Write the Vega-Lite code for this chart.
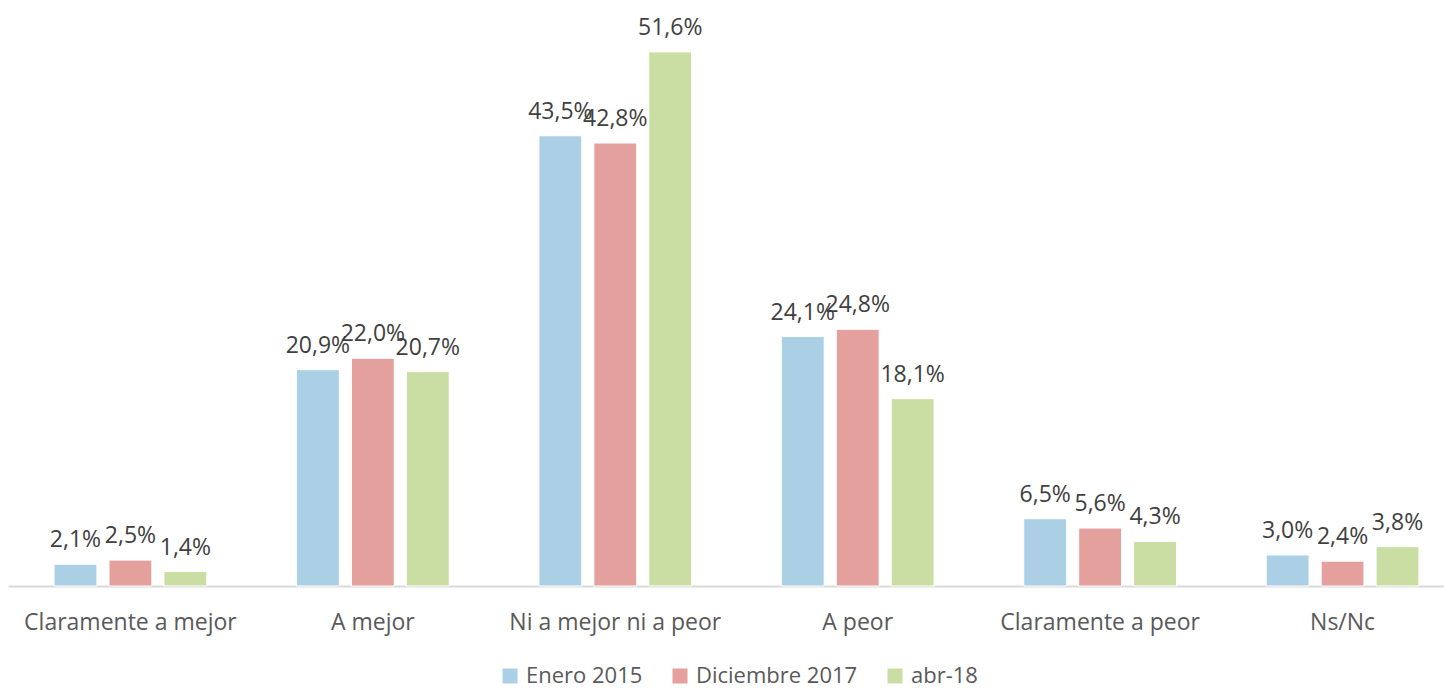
{
  "$schema": "https://vega.github.io/schema/vega-lite/v6.json",
  "width": 1444,
  "height": 576,
  "autosize": {"type": "none"},
  "padding": {"left": 0, "top": 10, "right": 0, "bottom": 102},
  "background": "white",
  "config": {
    "locale": {"number": {"decimal": ",", "thousands": ".", "grouping": [3], "currency": ["", " €"]}},
    "view": {"stroke": null},
    "font": "Open Sans"
  },
  "data": {"values": [
    {"cat": "Claramente a mejor", "serie": "Enero 2015", "v": 0.021},
    {"cat": "Claramente a mejor", "serie": "Diciembre 2017", "v": 0.025},
    {"cat": "Claramente a mejor", "serie": "abr-18", "v": 0.014},
    {"cat": "A mejor", "serie": "Enero 2015", "v": 0.209},
    {"cat": "A mejor", "serie": "Diciembre 2017", "v": 0.220},
    {"cat": "A mejor", "serie": "abr-18", "v": 0.207},
    {"cat": "Ni a mejor ni a peor", "serie": "Enero 2015", "v": 0.435},
    {"cat": "Ni a mejor ni a peor", "serie": "Diciembre 2017", "v": 0.428},
    {"cat": "Ni a mejor ni a peor", "serie": "abr-18", "v": 0.516},
    {"cat": "A peor", "serie": "Enero 2015", "v": 0.241},
    {"cat": "A peor", "serie": "Diciembre 2017", "v": 0.248},
    {"cat": "A peor", "serie": "abr-18", "v": 0.181},
    {"cat": "Claramente a peor", "serie": "Enero 2015", "v": 0.065},
    {"cat": "Claramente a peor", "serie": "Diciembre 2017", "v": 0.056},
    {"cat": "Claramente a peor", "serie": "abr-18", "v": 0.043},
    {"cat": "Ns/Nc", "serie": "Enero 2015", "v": 0.030},
    {"cat": "Ns/Nc", "serie": "Diciembre 2017", "v": 0.024},
    {"cat": "Ns/Nc", "serie": "abr-18", "v": 0.038}
  ]},
  "encoding": {
    "x": {
      "field": "cat", "type": "nominal", "sort": null,
      "scale": {"range": [8, 1465], "paddingInner": 0.37, "paddingOuter": 0.19},
      "axis": {"title": null, "labelAngle": 0, "labelFontSize": 23, "labelColor": "#595959", "labelPadding": 25, "labelLimit": 0, "ticks": false, "domainColor": "#D9D9D9", "domainWidth": 2, "labelFont": "Open Sans"}
    },
    "xOffset": {"field": "serie", "type": "nominal", "sort": ["Enero 2015", "Diciembre 2017", "abr-18"], "scale": {"paddingInner": 0.22}},
    "y": {"field": "v", "type": "quantitative", "scale": {"domain": [0, 0.5565]}, "axis": null}
  },
  "layer": [
    {
      "mark": {"type": "bar", "stroke": "white", "strokeWidth": 1},
      "encoding": {
        "color": {
          "field": "serie", "type": "nominal",
          "sort": ["Enero 2015", "Diciembre 2017", "abr-18"],
          "scale": {"domain": ["Enero 2015", "Diciembre 2017", "abr-18"], "range": ["#ABD0E6", "#E4A09D", "#CADDA3"]},
          "legend": {
            "title": null, "orient": "none", "direction": "horizontal",
            "legendX": 499, "legendY": 655,
            "symbolType": "square", "symbolSize": 225, "symbolStrokeWidth": 0,
            "labelFontSize": 22, "labelColor": "#595959", "labelFont": "Open Sans", "labelLimit": 0,
            "columnPadding": 26, "labelOffset": 5, "padding": 0
          }
        }
      }
    },
    {
      "mark": {"type": "text", "baseline": "alphabetic", "dy": -17, "fontSize": 23, "color": "#404040", "font": "Open Sans"},
      "encoding": {
        "text": {"field": "v", "type": "quantitative", "format": ".1%"}
      }
    }
  ]
}
